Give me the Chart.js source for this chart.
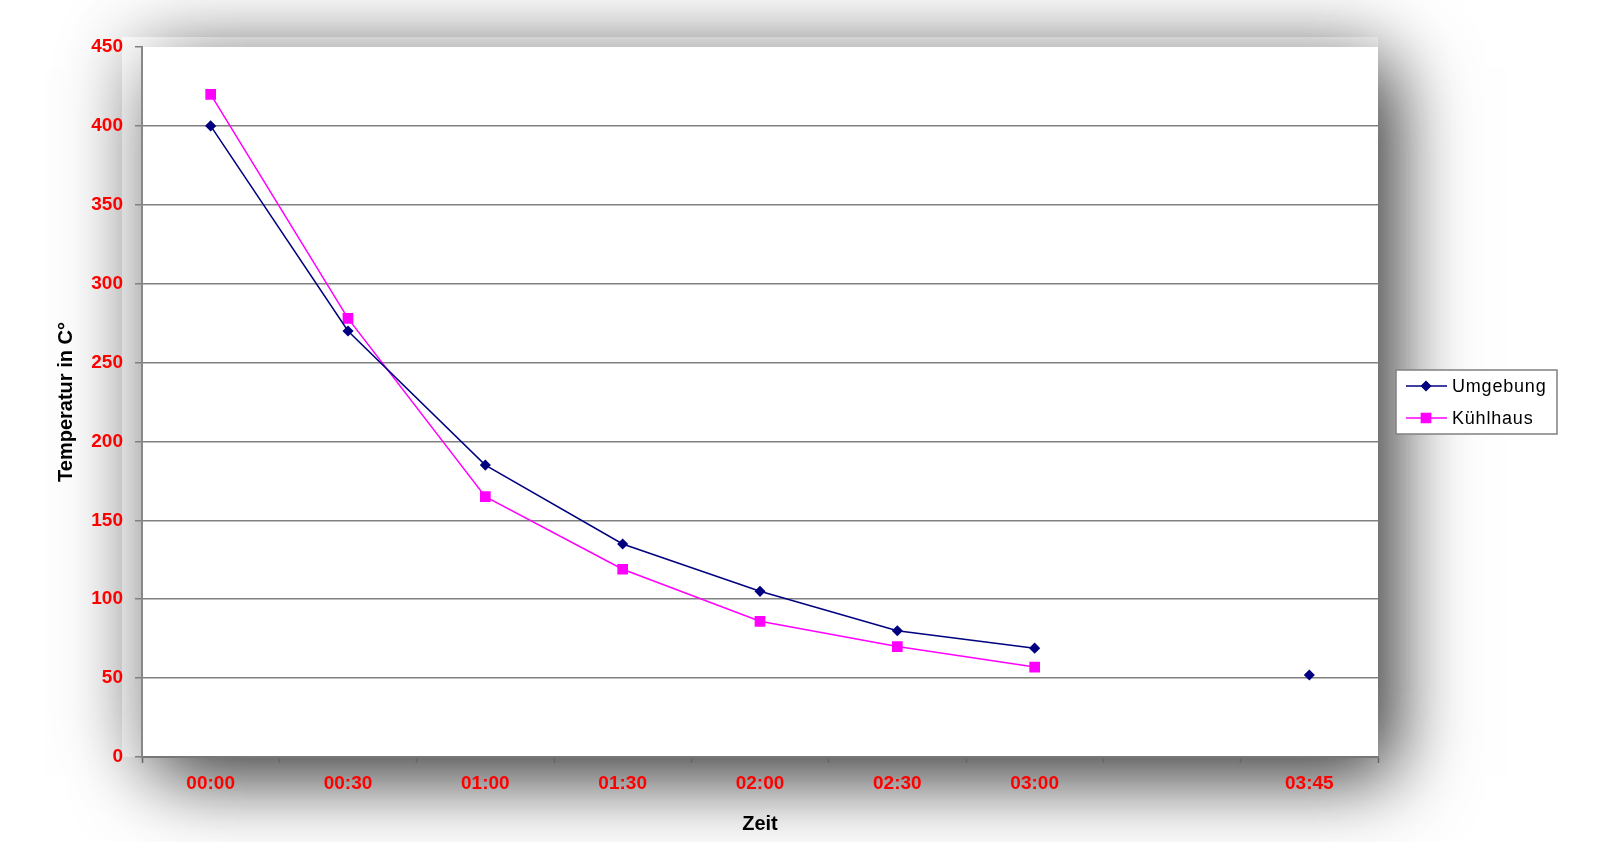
<!DOCTYPE html>
<html>
<head>
<meta charset="utf-8">
<script src="https://cdn.jsdelivr.net/npm/chart.js@4.4.0/dist/chart.umd.min.js"></script>
<style>
  body { margin: 0; background: #fff; }
  canvas { display: block; }
</style>
</head>
<body>
<canvas id="line-chart" width="1601" height="842"></canvas>
<script>
// values
var zeitLabels = ["00:00", "00:30", "01:00", "01:30", "02:00", "02:30", "03:00", "", "03:45"];
var umgebung = [400, 270, 185, 135, 105, 80, 69, null, 52];
var kuehlhaus = [420, 278, 165, 119, 86, 70, 57, null, null];
var yTicks = [0, 50, 100, 150, 200, 250, 300, 350, 400, 450];

Chart.defaults.font.family = "'Liberation Sans', Arial, sans-serif";

// soft grey drop shadow around the white plot area
var shadowPlugin = {
    id: 'shadow',
    beforeDraw: function (chart) {
        var ctx = chart.ctx, a = chart.chartArea;
        ctx.save();
        ctx.fillStyle = "#ffffff";
        ctx.fillRect(0, 0, chart.width, chart.height);
        ctx.shadowColor = "rgba(0,0,0,0.2)";
        ctx.shadowBlur = 70;
        ctx.fillRect(a.left - 20, a.top - 10, a.right - a.left + 20, a.bottom - a.top + 10);
        ctx.shadowColor = "rgba(0,0,0,0.75)";
        ctx.shadowBlur = 75;
        ctx.shadowOffsetX = 16;
        ctx.shadowOffsetY = 20;
        ctx.fillRect(a.left, a.top, a.right - a.left, a.bottom - a.top);
        ctx.shadowColor = "transparent";
        ctx.fillRect(a.left, a.top, a.right - a.left, a.bottom - a.top);
        ctx.restore();
    }
};

// legend with line + marker, in a boxed frame right of the plot
var boxLegend = {
    id: 'boxLegend',
    afterDraw: function (chart) {
        var ctx = chart.ctx, a = chart.chartArea;
        var x = a.right + 18, y = 370, w = 161, h = 64;
        ctx.save();
        ctx.fillStyle = "#ffffff";
        ctx.fillRect(x, y, w, h);
        ctx.strokeStyle = "#808080";
        ctx.lineWidth = 1.5;
        ctx.strokeRect(x, y, w, h);
        ctx.font = "18px 'Liberation Sans', Arial, sans-serif";
        ctx.letterSpacing = "0.8px";
        ctx.textBaseline = "middle";
        chart.data.datasets.forEach(function (ds, i) {
            var ly = y + 16 + i * 32;
            ctx.strokeStyle = ds.borderColor;
            ctx.lineWidth = 1.5;
            ctx.beginPath();
            ctx.moveTo(x + 10, ly);
            ctx.lineTo(x + 51, ly);
            ctx.stroke();
            ctx.fillStyle = ds.pointBackgroundColor;
            ctx.strokeStyle = ds.pointBackgroundColor;
            Chart.helpers.drawPoint(ctx, {
                pointStyle: ds.pointStyle, radius: ds.pointRadius, borderWidth: 1
            }, x + 30, ly);
            ctx.fillStyle = "#000000";
            ctx.fillText(ds.label, x + 56, ly + 1);
        });
        ctx.restore();
    }
};

new Chart(document.getElementById("line-chart"), {
    type: 'line',
    data: {
        labels: zeitLabels,
        datasets: [{
            label: "Umgebung",
            data: umgebung,
            borderColor: "#000080",
            backgroundColor: "#000080",
            pointBackgroundColor: "#000080",
            pointBorderColor: "#000080",
            pointStyle: 'rectRot',
            pointRadius: 4.5,
            borderWidth: 1.5,
            spanGaps: false
        }, {
            label: "Kühlhaus",
            data: kuehlhaus,
            borderColor: "#ff00ff",
            backgroundColor: "#ff00ff",
            pointBackgroundColor: "#ff00ff",
            pointBorderColor: "#ff00ff",
            pointStyle: 'rect',
            pointRadius: 6.5,
            borderWidth: 1.5,
            spanGaps: false
        }]
    },
    options: {
        responsive: false,
        animation: false,
        layout: { padding: { left: 0, top: 47, right: 223, bottom: 0 } },
        plugins: {
            legend: { display: false },
            tooltip: { enabled: false }
        },
        scales: {
            x: {
                offset: true,
                afterFit: function (s) { s.height = 85; },
                grid: {
                    offset: true,
                    drawOnChartArea: false,
                    tickLength: 6,
                    tickColor: "#666666",
                    tickWidth: 1.5
                },
                border: { color: "#777777", width: 2 },
                ticks: { color: "#ff0000", font: { size: 19, weight: 'bold' }, padding: 9, autoSkip: false, maxRotation: 0 },
                title: {
                    display: true,
                    text: "Zeit",
                    color: "#000000",
                    font: { size: 20, weight: 'bold' },
                    padding: { top: 0, bottom: 6 }
                }
            },
            y: {
                min: 0,
                max: 450,
                afterFit: function (s) { s.width = 142; },
                afterBuildTicks: function (s) {
                    s.ticks = yTicks.map(function (v) { return { value: v }; });
                },
                grid: {
                    color: function (c) { return c.tick && c.tick.value === 450 ? "rgba(0,0,0,0)" : "#808080"; },
                    lineWidth: 1.5,
                    tickLength: 7,
                    tickColor: "#808080"
                },
                border: { color: "#888888", width: 2 },
                ticks: { color: "#ff0000", font: { size: 19, weight: 'bold' }, padding: 12 },
                title: {
                    display: true,
                    text: "Temperatur in C°",
                    color: "#000000",
                    font: { size: 20, weight: 'bold' },
                    padding: { top: 54, bottom: 0 }
                }
            }
        }
    },
    plugins: [shadowPlugin, boxLegend]
});
</script>
</body>
</html>
